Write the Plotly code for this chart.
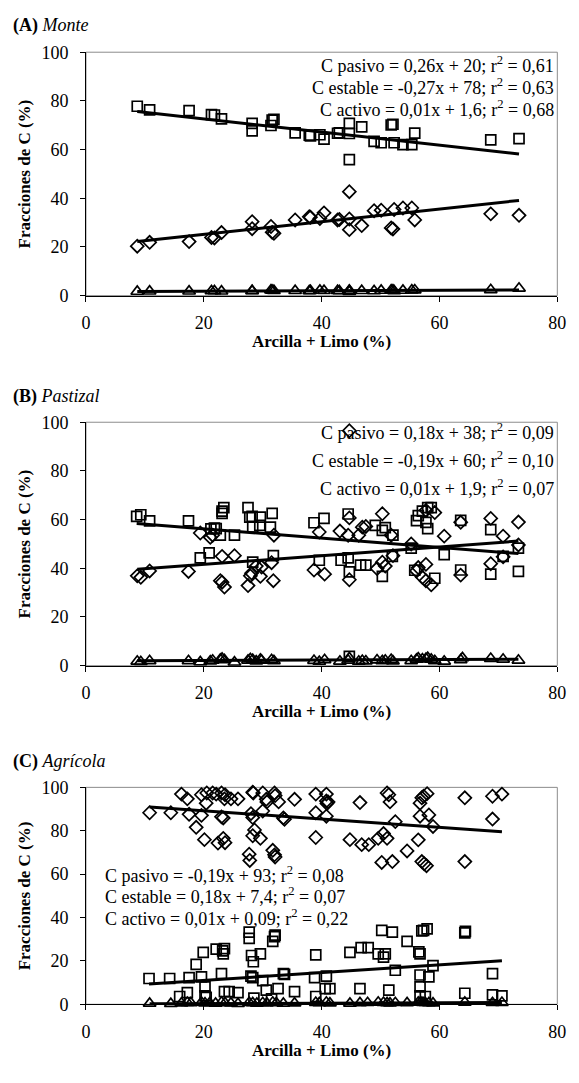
import plotly.graph_objects as go
import numpy as np

W, H = 579, 1083
FONT = "Liberation Serif, Times New Roman, serif"

# ---------------- Panel A: Monte ----------------
xA = [8.7, 10.8, 17.5, 21.3, 21.8, 23.0, 28.2, 28.2, 31.4, 31.6, 31.9, 35.5, 37.9, 38.1, 39.7, 40.4,
      42.7, 43.0, 44.7, 44.7, 44.7, 46.8, 48.9, 50.1, 51.8, 52.1, 52.3, 53.8, 55.3, 55.8, 68.7, 73.5]
estA = [77.8, 76.3, 76.0, 74.4, 74.2, 72.6, 70.8, 67.7, 69.9, 72.1, 72.4, 66.9, 65.9, 65.6, 66.1, 64.3,
        66.7, 66.9, 70.8, 66.6, 55.9, 69.3, 63.4, 62.8, 70.1, 70.4, 62.8, 62.0, 62.0, 66.8, 64.0, 64.5]
pasA = [20.3, 21.9, 22.2, 23.9, 23.7, 25.9, 27.5, 30.4, 28.4, 26.0, 25.6, 31.1, 32.4, 32.2, 31.7, 34.0,
        31.1, 31.3, 27.1, 31.5, 42.7, 28.8, 34.9, 35.1, 27.8, 27.4, 35.4, 36.0, 36.0, 31.1, 33.6, 33.0]
actA = [1.7, 1.8, 1.8, 1.9, 1.9, 1.8, 1.9, 2.0, 2.3, 2.1, 2.0, 2.0, 1.9, 2.0, 2.1, 2.0,
        2.0, 1.9, 2.1, 2.0, 1.6, 2.0, 1.9, 2.1, 2.2, 2.3, 1.9, 2.1, 2.2, 2.3, 2.4, 3.0]

# ---------------- Panel B: Pastizal ----------------
xB_est = [8.6, 9.3, 10.8, 17.4, 19.4, 20.9, 21.2, 21.8, 22.1, 22.8, 23.1, 23.4, 23.1, 25.2, 27.5, 27.8,
          28.2, 28.3, 28.3, 29.5, 29.6, 31.6, 31.3, 31.8, 38.7, 39.6, 40.4, 43.3, 44.5, 44.5, 44.7, 44.7,
          46.6, 47.5, 49.1, 50.3, 50.8, 50.3, 52.1, 52.0, 55.2, 55.8, 56.1, 56.4, 57.1, 58.0, 58.6, 57.7,
          58.0, 59.2, 60.8, 63.6, 63.6, 68.7, 68.7, 70.8, 73.4, 73.4]
estB = [61.3, 62.0, 59.5, 59.5, 44.3, 46.3, 56.2, 56.5, 56.3, 53.6, 63.5, 64.9, 62.6, 53.6, 64.9, 61.0,
        61.3, 42.5, 56.9, 57.6, 61.0, 62.6, 56.9, 45.2, 58.7, 43.3, 60.5, 43.3, 62.3, 44.3, 38.5, 3.8,
        41.3, 41.3, 57.6, 55.6, 56.7, 36.7, 53.6, 44.9, 48.3, 39.2, 59.6, 61.6, 63.5, 64.9, 64.9, 58.9,
        56.3, 35.9, 45.6, 39.3, 59.7, 55.9, 37.6, 44.9, 48.3, 38.7]
xB_pas = [8.7, 9.3, 10.8, 17.4, 19.4, 21.1, 21.5, 22.8, 23.1, 23.5, 23.1, 25.2, 27.5, 27.9, 28.1, 28.9,
          29.6, 29.8, 31.5, 31.8, 31.9, 38.7, 39.6, 40.5, 43.1, 44.5, 44.7, 44.7, 44.7, 46.3, 46.9, 47.5,
          49.4, 50.3, 50.3, 50.8, 51.8, 52.1, 55.2, 56.1, 56.4, 57.1, 57.7, 57.7, 57.7, 58.6, 59.2, 60.8,
          63.6, 63.6, 68.7, 68.7, 70.8, 70.8, 73.4, 73.4]
pasB = [36.9, 36.3, 38.9, 38.7, 54.5, 52.7, 53.6, 34.9, 34.3, 32.3, 44.9, 45.2, 32.9, 36.9, 38.0, 40.9,
        36.7, 40.5, 42.3, 34.9, 53.6, 39.3, 54.9, 37.6, 55.3, 53.6, 35.3, 60.7, 96.5, 53.6, 56.9, 57.2,
        39.9, 42.5, 62.4, 40.9, 53.6, 45.2, 50.0, 38.9, 40.3, 36.3, 34.9, 41.6, 63.8, 33.2, 62.9, 53.2,
        37.2, 58.9, 41.9, 60.5, 53.2, 44.7, 49.6, 59.0]
xB_act = [8.7, 9.3, 10.8, 17.4, 19.4, 21.1, 21.5, 22.8, 23.1, 23.5, 25.2, 27.5, 27.9, 28.3, 28.9, 29.6,
          29.8, 31.5, 31.9, 38.7, 39.6, 40.5, 43.1, 44.5, 44.7, 46.3, 46.9, 47.5, 49.4, 50.3, 50.8, 51.8,
          52.1, 55.2, 56.1, 56.4, 57.1, 57.7, 58.0, 58.6, 59.2, 60.8, 63.6, 63.9, 68.7, 70.8, 73.4]
actB = [1.8, 1.6, 2.0, 2.0, 1.5, 1.9, 2.2, 2.6, 3.0, 2.4, 1.4, 2.2, 2.8, 2.5, 1.9, 2.6,
        2.2, 2.4, 2.0, 2.1, 1.7, 2.4, 1.8, 2.2, 3.2, 1.8, 2.1, 1.9, 2.3, 2.0, 2.2, 2.5,
        1.9, 2.0, 2.6, 3.1, 2.7, 2.9, 3.3, 2.6, 2.0, 1.8, 2.4, 3.2, 2.9, 2.6, 2.2]

# ---------------- Panel C: Agrícola ----------------
xC_pas = [10.8, 14.4, 16.2, 17.2, 17.5, 18.7, 19.6, 19.6, 20.1, 20.4, 20.5, 21.5, 22.1, 22.4, 23.0, 23.3,
          23.0, 23.3, 23.6, 23.5, 23.6, 24.6, 25.8, 27.7, 27.8, 28.0, 28.3, 28.3, 28.4, 28.6, 28.3, 29.6,
          30.0, 30.0, 30.6, 30.7, 31.7, 32.0, 32.1, 32.0, 32.1, 32.7, 33.5, 33.7, 35.4, 39.0, 39.0, 39.0,
          40.8, 40.8, 40.9, 41.1, 40.8, 44.8, 46.5, 46.8, 48.0, 49.6, 50.5, 51.1, 50.2, 51.1, 51.4, 51.6,
          52.0, 52.5, 54.5, 56.4, 56.7, 57.0, 57.3, 57.9, 56.7, 57.0, 57.4, 57.8, 58.2, 58.9, 64.3, 64.3,
          69.0, 69.0, 70.6]
pasC = [88.3, 88.3, 96.9, 94.7, 87.6, 81.6, 87.1, 96.6, 75.9, 92.7, 97.4, 97.4, 96.9, 74.3, 86.4, 85.9,
        97.4, 76.5, 74.5, 94.7, 96.6, 94.7, 94.7, 69.2, 66.3, 87.9, 86.1, 97.8, 97.4, 80.4, 77.7, 76.5,
        97.4, 89.1, 94.5, 93.3, 71.0, 68.9, 67.9, 97.4, 96.2, 93.3, 85.9, 85.3, 94.5, 96.9, 88.3, 76.9,
        96.9, 93.7, 92.6, 93.3, 86.7, 75.9, 93.0, 73.6, 73.6, 76.5, 78.7, 76.5, 65.4, 97.4, 96.6, 93.3,
        65.8, 84.2, 70.7, 75.8, 92.7, 95.2, 95.9, 97.1, 86.7, 65.8, 64.8, 63.9, 87.3, 82.0, 95.2, 65.8,
        95.9, 85.4, 96.9]
xC_est = [10.7, 14.2, 15.9, 17.2, 17.5, 18.7, 19.6, 19.9, 20.2, 20.2, 20.4, 22.1, 23.2, 23.5, 23.0, 23.3,
          23.5, 24.3, 25.8, 27.7, 27.7, 28.1, 28.4, 28.0, 28.3, 28.5, 29.6, 30.0, 30.6, 31.7, 32.0, 32.1,
          32.6, 31.5, 33.5, 33.7, 35.4, 39.0, 38.8, 39.0, 40.8, 40.6, 41.4, 44.8, 46.5, 46.7, 47.9, 49.6,
          50.5, 50.8, 50.2, 51.4, 52.0, 52.5, 54.5, 56.5, 56.7, 56.7, 56.7, 57.0, 57.3, 57.9, 56.7, 57.6,
          58.2, 58.9, 64.3, 64.4, 64.3, 69.0, 69.0, 70.6]
estC = [11.9, 11.9, 3.6, 5.4, 12.3, 18.4, 12.6, 23.9, 8.0, 3.9, 3.2, 25.4, 24.6, 25.7, 14.1, 23.2,
        5.8, 5.8, 5.4, 33.3, 30.4, 22.5, 19.6, 13.0, 12.3, 2.8, 23.2, 10.9, 6.5, 29.0, 31.2, 31.9,
        7.2, 2.5, 14.1, 13.8, 5.8, 22.8, 12.3, 3.6, 13.0, 7.2, 7.2, 23.9, 7.2, 26.1, 26.1, 23.2,
        21.7, 23.2, 34.1, 6.5, 33.3, 15.7, 29.0, 24.2, 23.2, 13.5, 8.0, 33.8, 34.1, 34.8, 3.9, 3.6,
        12.6, 17.8, 32.9, 33.6, 5.1, 14.1, 4.3, 3.9]
xC_act = [10.8, 14.4, 16.2, 17.2, 17.8, 19.6, 20.2, 21.0, 22.0, 23.0, 23.6, 24.6, 25.8, 27.7, 28.3, 29.0,
          30.0, 30.7, 31.7, 32.3, 33.5, 35.4, 39.0, 39.6, 40.8, 41.4, 44.8, 46.5, 47.8, 49.6, 50.5, 51.1,
          51.6, 52.5, 54.5, 56.4, 56.8, 57.2, 57.6, 58.2, 58.9, 64.3, 69.0, 70.6]
actC = [0.4, 0.3, 0.5, 0.8, 0.6, 0.9, 0.5, 0.7, 0.4, 0.9, 0.6, 0.5, 0.3, 0.8, 0.6, 0.4,
        0.7, 0.5, 0.9, 0.6, 0.4, 0.5, 0.8, 0.6, 0.9, 0.5, 0.4, 0.6, 0.7, 0.9, 0.8, 0.6,
        0.5, 0.7, 0.6, 0.9, 1.1, 0.8, 0.7, 0.6, 0.5, 0.9, 0.7, 0.8]

# Regression equations (slope, intercept) shown in each panel
reg_A = {"pasivo": (0.26, 20), "estable": (-0.27, 78), "activo": (0.01, 1.6)}
reg_B = {"pasivo": (0.18, 38), "estable": (-0.19, 60), "activo": (0.01, 1.9)}
reg_C = {"pasivo": (-0.19, 93), "estable": (0.18, 7.4), "activo": (0.01, 0.09)}

eq_A = ["C pasivo = 0,26x + 20; r<sup>2</sup> = 0,61",
        "C estable = -0,27x + 78; r<sup>2</sup> = 0,63",
        "C activo = 0,01x + 1,6; r<sup>2</sup> = 0,68"]
eq_B = ["C pasivo = 0,18x + 38; r<sup>2</sup> = 0,09",
        "C estable = -0,19x + 60; r<sup>2</sup> = 0,10",
        "C activo = 0,01x + 1,9; r<sup>2</sup> = 0,07"]
eq_C = ["C pasivo = -0,19x + 93; r<sup>2</sup> = 0,08",
        "C estable = 0,18x + 7,4; r<sup>2</sup> = 0,07",
        "C activo = 0,01x + 0,09; r<sup>2</sup> = 0,22"]

titles = ["<b>(A)</b> <i>Monte</i>", "<b>(B)</b> <i>Pastizal</i>", "<b>(C)</b> <i>Agrícola</i>"]
x_ticks = [0, 20, 40, 60, 80]
y_ticks = [0, 20, 40, 60, 80, 100]
x_title = "Arcilla + Limo (%)"
y_title = "Fracciones de C (%)"

panels = [
    dict(est=(xA, estA), pas=(xA, pasA), act=(xA, actA), reg=reg_A, eq=eq_A,
         box=(43, 291), eq_y=[94.8, 85.9, 77.0], eq_align="right"),
    dict(est=(xB_est, estB), pas=(xB_pas, pasB), act=(xB_act, actB), reg=reg_B, eq=eq_B,
         box=(420, 668), eq_y=[96.3, 84.7, 73.1], eq_align="right"),
    dict(est=(xC_est, estC), pas=(xC_pas, pasC), act=(xC_act, actC), reg=reg_C, eq=eq_C,
         box=(792, 1013), eq_y=[60, 50, 40], eq_align="left"),
]

LEFT, RIGHT = 83, 566

fig = go.Figure()
shapes = []
annotations = []

symbols = {"est": "square-open", "pas": "diamond-open", "act": "triangle-up-open"}
sizes = {"est": 10, "pas": 10, "act": 11}
regkey = {"est": "estable", "pas": "pasivo", "act": "activo"}

for i, p in enumerate(panels):
    n = "" if i == 0 else str(i + 1)
    xa, ya = "x" + n, "y" + n
    for k in ["est", "pas", "act"]:
        xs, ys = p[k]
        fig.add_trace(go.Scatter(x=xs, y=ys, mode="markers", xaxis=xa, yaxis=ya,
                                 marker=dict(symbol=symbols[k], size=sizes[k], color="black",
                                             line=dict(color="black", width=1.7)),
                                 cliponaxis=False, showlegend=False))
    for k in ["est", "pas", "act"]:
        xs = p[k][0]
        m, b = p["reg"][regkey[k]]
        lx = np.array([min(xs), max(xs)])
        fig.add_trace(go.Scatter(x=lx, y=m * lx + b, mode="lines", xaxis=xa, yaxis=ya,
                                 line=dict(color="black", width=3), showlegend=False,
                                 cliponaxis=False))
    top, bot = p["box"]
    dom_y = [1 - bot / H, 1 - top / H]
    axis_common = dict(showgrid=False, zeroline=False, ticks="outside", ticklen=5, tickcolor="black",
                       tickwidth=1, showline=True, linecolor="black", linewidth=1,
                       tickfont=dict(family=FONT, size=18, color="black"))
    fig.update_layout(**{
        "xaxis" + n: dict(domain=[LEFT / W, RIGHT / W], range=[0, 80], tickvals=x_ticks,
                          anchor=ya, ticklabelstandoff=6, **axis_common),
        "yaxis" + n: dict(domain=dom_y, range=[0, 100], tickvals=y_ticks,
                          anchor=xa, ticklabelstandoff=8, **axis_common),
    })
    # gray plot-area frame
    shapes.append(dict(type="rect", xref=xa + " domain", yref=ya + " domain", x0=0, x1=1, y0=0, y1=1,
                       line=dict(color="#8c8c8c", width=1), layer="below"))
    # panel title
    annotations.append(dict(text=titles[i], xref="paper", yref="paper", x=6 / W, y=1 - (top - 14) / H,
                            xanchor="left", yanchor="bottom", showarrow=False,
                            font=dict(family=FONT, size=18, color="black")))
    # x axis title
    annotations.append(dict(text="<b>" + x_title + "</b>", xref="paper", yref="paper",
                            x=(LEFT + RIGHT) / 2 / W, y=1 - (bot + 47) / H, xanchor="center",
                            yanchor="middle", showarrow=False,
                            font=dict(family=FONT, size=17, color="black")))
    # y axis title
    annotations.append(dict(text="<b>" + y_title + "</b>", xref="paper", yref="paper",
                            x=20 / W, y=1 - (top + bot) / 2 / H, xanchor="center", yanchor="middle",
                            textangle=-90, showarrow=False,
                            font=dict(family=FONT, size=17, color="black")))
    # equations
    for txt, yv in zip(p["eq"], p["eq_y"]):
        if p["eq_align"] == "right":
            annotations.append(dict(text=txt, xref=xa + " domain", yref=ya, x=0.997, y=yv,
                                    xanchor="right", yanchor="middle", showarrow=False,
                                    font=dict(family=FONT, size=18, color="black")))
        else:
            annotations.append(dict(text=txt, xref=xa + " domain", yref=ya, x=0.037, y=yv,
                                    xanchor="left", yanchor="middle", showarrow=False,
                                    font=dict(family=FONT, size=18, color="black")))

fig.update_layout(width=W, height=H, margin=dict(l=0, r=0, t=0, b=0),
                  plot_bgcolor="white", paper_bgcolor="white",
                  shapes=shapes, annotations=annotations, showlegend=False,
                  font=dict(family=FONT, color="black"))

fig.write_html("out.html")
